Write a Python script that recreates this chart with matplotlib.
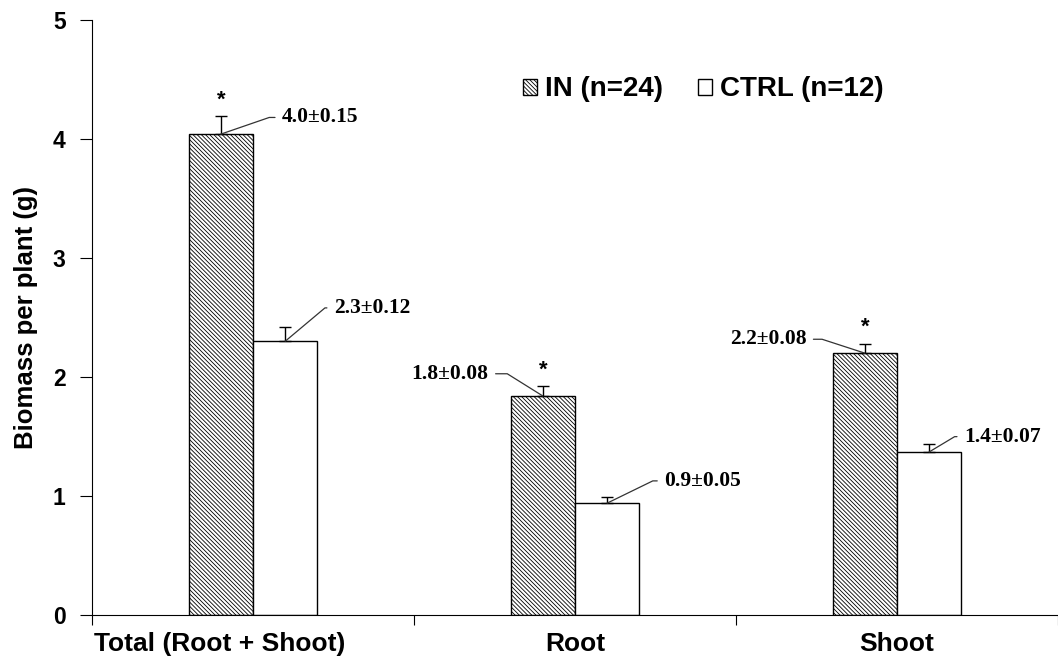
import numpy as np
import matplotlib
matplotlib.use("Agg")
import matplotlib.pyplot as plt
from matplotlib.transforms import ScaledTranslation

plt.rcParams.update({
    "font.family": ["Liberation Sans", "DejaVu Sans"],
    "font.weight": "bold",
    "axes.labelweight": "bold",
    "hatch.linewidth": 0.6,
})

# --- Dados: biomassa por planta (g), média ± erro padrão ---
categorias = ["Total (Root + Shoot)", "Root", "Shoot"]
grupos = ["IN (n=24)", "CTRL (n=12)"]
media_in = [4.04, 1.84, 2.20]
erro_in = [0.15, 0.08, 0.08]
media_ctrl = [2.30, 0.94, 1.37]
erro_ctrl = [0.12, 0.05, 0.07]
signif = [True, True, True]   # * = diferença significativa IN vs CTRL

fig = plt.figure(figsize=(10.58, 6.62), dpi=100)
ax = fig.add_axes([0.087, 0.071, 0.913, 0.899])

x = np.arange(len(categorias)) + 0.5
w = 0.2

ax.bar(x - w / 2, media_in, w, color="white", edgecolor="black",
       hatch="\\" * 8, lw=1.0, label=grupos[0], zorder=2)
ax.bar(x + w / 2, media_ctrl, w, color="white", edgecolor="black",
       lw=1.0, label=grupos[1], zorder=2)

# barras de erro só para cima
for xs, m, e in [(x - w / 2, media_in, erro_in), (x + w / 2, media_ctrl, erro_ctrl)]:
    ax.errorbar(xs, m, yerr=[np.zeros(len(e)), e], fmt="none", ecolor="black",
                elinewidth=1.0, capsize=4, capthick=1.0, zorder=3)

# asteriscos
for xi, m, e, s in zip(x - w / 2, media_in, erro_in, signif):
    if s:
        ax.annotate("*", (xi, m + e), xytext=(0, 4), textcoords="offset points",
                    ha="center", va="bottom", fontsize=16)

# rótulos "média±erro" com linha de chamada (dx, dy em pontos, ângulo da diagonal)
chamadas_in = [(44, 12, 19), (-39, 16, 148), (-42, 10, 162)]
chamadas_ctrl = [(35, 24, 40), (41, 16, 26), (25, 11, 31)]

def rotula(xs, medias, erros, chamadas):
    for xi, m, e, (dx, dy, ang) in zip(xs, medias, erros, chamadas):
        ha = "left" if dx > 0 else "right"
        ax.annotate(f"{m:.1f}±{e:.2f}", (xi, m), xytext=(dx, dy),
                    textcoords="offset points", ha=ha, va="center",
                    fontsize=15.5, fontweight="bold", family="Liberation Serif",
                    arrowprops=dict(arrowstyle="-", color="#333333", lw=0.9,
                                    shrinkA=3, shrinkB=0,
                                    relpos=(0 if dx > 0 else 1, 0.5),
                                    connectionstyle=f"angle,angleA=0,angleB={ang},rad=0"),
                    zorder=4)

rotula(x - w / 2, media_in, erro_in, chamadas_in)
rotula(x + w / 2, media_ctrl, erro_ctrl, chamadas_ctrl)

# eixos
ax.set_xlim(0, 2.966)
ax.set_ylim(0, 5)
ax.set_yticks(range(6))
ax.set_xticks([0, 1, 2, 3])
ax.set_xticklabels([])
ax.set_xticks(x, minor=True)
ax.set_xticklabels(categorias, minor=True)
ax.tick_params(axis="x", which="minor", length=0, pad=12, labelsize=19)
ax.tick_params(axis="x", which="major", length=7, direction="out")
ax.tick_params(axis="y", length=9, direction="out", labelsize=16.5, pad=10)
lbl0 = ax.get_xticklabels(minor=True)[0]
lbl0.set_transform(lbl0.get_transform() + ScaledTranslation(-0.33, 0, fig.dpi_scale_trans))
for s in ["top", "right"]:
    ax.spines[s].set_visible(False)
ax.set_ylabel("Biomass per plant (g)", fontsize=18.5, labelpad=11)

ax.legend(loc="center left", bbox_to_anchor=(0.446, 0.883), ncol=2, frameon=False,
          fontsize=20, borderpad=0, borderaxespad=0, handlelength=0.5,
          handleheight=0.5, handletextpad=0.3, columnspacing=1.25)

fig.savefig("out.png", dpi=100)
